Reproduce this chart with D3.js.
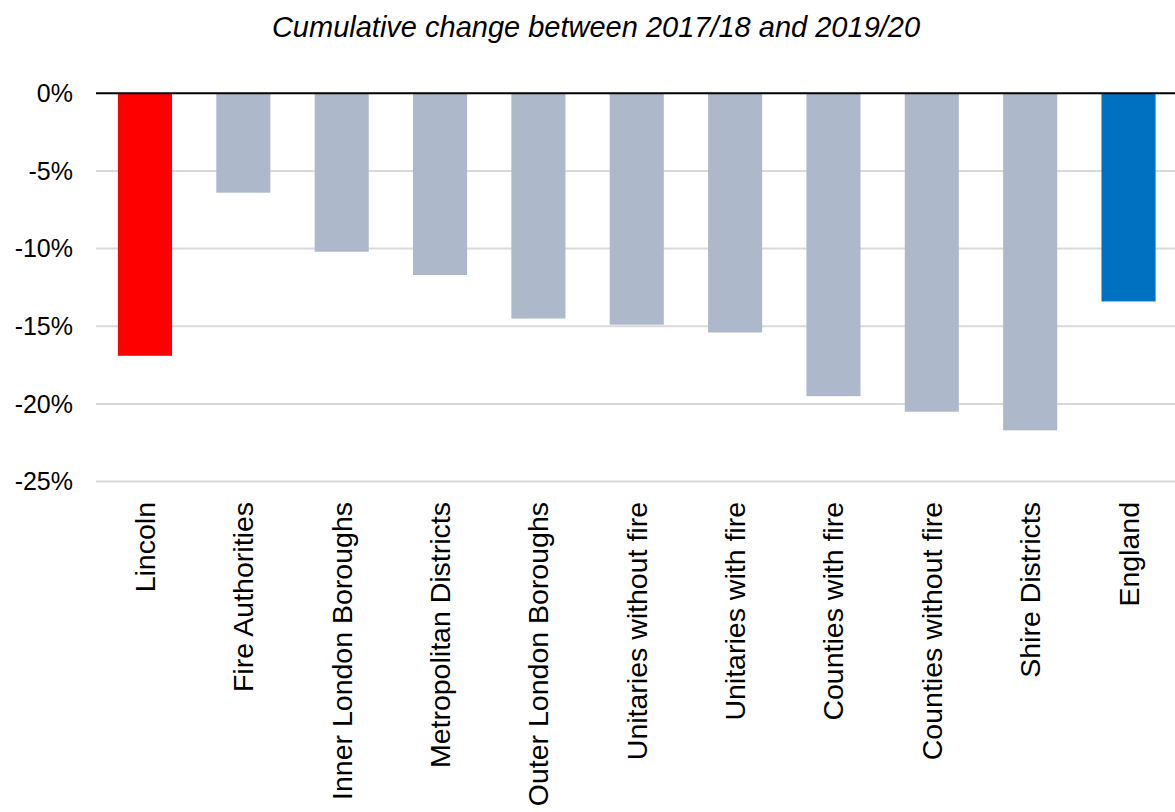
<!DOCTYPE html>
<html>
<head>
<meta charset="utf-8">
<script src="https://cdn.jsdelivr.net/npm/d3@7"></script>
<style>
  body { margin: 0; background: #fff; }
  text { font-family: "Liberation Sans", Arial, sans-serif; fill: #000; }
</style>
</head>
<body>
<div id="chart"></div>
<script>
const categories = ["Lincoln", "Fire Authorities", "Inner London Boroughs", "Metropolitan Districts",
  "Outer London Boroughs", "Unitaries without fire", "Unitaries with fire", "Counties with fire",
  "Counties without fire", "Shire Districts", "England"];
const values = [-16.9, -6.4, -10.2, -11.7, -14.5, -14.9, -15.4, -19.5, -20.5, -21.7, -13.4];
const yTicks = [0, -5, -10, -15, -20, -25];

let width = 1175;
let height = 812;

const svg = d3.select("#chart")
  .append("svg")
  .attr("width", width)
  .attr("height", height);

const x = d3.scaleBand()
  .domain(categories)
  .range([95.8, 1177.7])
  .paddingInner(0.45)
  .paddingOuter(0.225);

const y = d3.scaleLinear()
  .domain([-25, 0])
  .range([481.6, 93.3]);

const color = d => d === "Lincoln" ? "#ff0000" : d === "England" ? "#0070c0" : "#adb9ca";

// gridlines
svg.selectAll(".grid")
  .data(yTicks.filter(t => t !== 0))
  .enter().append("line")
  .attr("x1", 96)
  .attr("x2", width)
  .attr("y1", d => y(d))
  .attr("y2", d => y(d))
  .attr("stroke", "#d9d9d9")
  .attr("stroke-width", 2);

// y labels
svg.selectAll(".ylab")
  .data(yTicks)
  .enter().append("text")
  .attr("x", 73)
  .attr("y", d => y(d))
  .attr("dy", "0.35em")
  .attr("text-anchor", "end")
  .style("font-size", "25px")
  .text(d => d + "%");

// bars
svg.selectAll(".bar")
  .data(categories)
  .enter().append("rect")
  .attr("x", d => x(d))
  .attr("width", x.bandwidth())
  .attr("y", y(0))
  .attr("height", (d, i) => y(values[i]) - y(0))
  .attr("fill", d => color(d));

// zero line
svg.append("line")
  .attr("x1", 96)
  .attr("x2", width)
  .attr("y1", y(0))
  .attr("y2", y(0))
  .attr("stroke", "#000")
  .attr("stroke-width", 2);

// category labels
svg.selectAll(".xlab")
  .data(categories)
  .enter().append("text")
  .attr("transform", d => `translate(${x(d) + x.bandwidth() / 2},502) rotate(-90)`)
  .attr("dy", "0.35em")
  .attr("text-anchor", "end")
  .style("font-size", "28.5px")
  .text(d => d);

// title
svg.append("text")
  .attr("x", 596)
  .attr("y", 37)
  .attr("text-anchor", "middle")
  .style("font-size", "29px")
  .style("font-style", "italic")
  .text("Cumulative change between 2017/18 and 2019/20");
</script>
</body>
</html>
